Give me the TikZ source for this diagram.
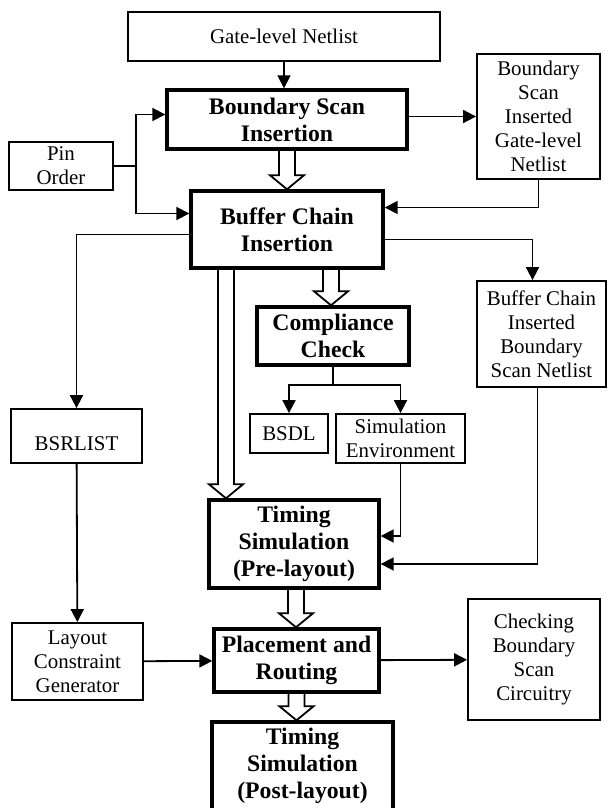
\documentclass[tikz,border=0pt]{standalone}
\usepackage{fontspec}
\setmainfont{Liberation Serif}
\usetikzlibrary{arrows.meta}
\usetikzlibrary{calc}

\newcommand{\hollowarrow}[3][0]{%
  \path ($(#2.south)+(#1,0)$) coordinate (ha-s) (#3.north -| ha-s) coordinate (ha-t);
  \draw[hollow] ($(ha-s)+(-8,0)$) -- ($(ha-t)+(-8,-14)$) -- ($(ha-t)+(-17,-14)$) -- (ha-t)
    -- ($(ha-t)+(17,-14)$) -- ($(ha-t)+(8,-14)$) -- ($(ha-s)+(8,0)$);}

\begin{document}
\begin{tikzpicture}[x=0.5pt, y=-0.5pt,
    box/.style={draw, line width=0.9pt, align=center, inner sep=1pt, font=\fontsize{10.45}{12}\selectfont},
    stage/.style={box, line width=1.7pt, font=\fontsize{11.85}{13.5}\selectfont\bfseries},
    arr/.style={line width=0.9pt, -{Triangle[length=6.5pt, width=6.5pt]}},
    hollow/.style={line width=0.9pt, line join=miter}]
      \useasboundingbox (0,0) rectangle (607,808);
      \clip (0,0) rectangle (607,808);

      \node [box, minimum width=156pt, minimum height=24.5pt] (gl) at (284, 36.5) {Gate-level Netlist};
      \node [stage, minimum width=120pt, minimum height=29.5pt] (bsi) at (287, 119.5) {Boundary Scan\\Insertion};
      \node [box, minimum width=52pt, minimum height=24pt] (pin) at (61, 166) {Pin\\Order};
      \node [box, minimum width=61.5pt, minimum height=62.5pt] (bsn) at (538.5, 116.5) {Boundary\\Scan\\Inserted\\Gate-level\\Netlist};
      \node [stage, minimum width=96pt, minimum height=38.5pt] (bci) at (287, 229.5) {Buffer Chain\\Insertion};
      \node [box, minimum width=64.5pt, minimum height=53pt] (bcn) at (541.5, 334) {Buffer Chain\\Inserted\\Boundary\\Scan Netlist};
      \node [stage, minimum width=76pt, minimum height=29pt] (cc) at (333, 336) {Compliance\\Check};
      \node [box, minimum width=39pt, minimum height=19.5pt] (bsdl) at (289, 433.5) {BSDL};
      \node [box, minimum width=64.5pt, minimum height=24.5pt] (env) at (400.5, 438.5) {Simulation\\Environment};
      \node [box, minimum width=65.5pt, minimum height=27pt] (bsr) at (76.5, 436) {\raisebox{-4pt}[\height][0pt]{BSRLIST}};
      \node [stage, minimum width=85pt, minimum height=44pt] (pre) at (294, 544) {Timing\\Simulation\\(Pre-layout)};
      \node [box, minimum width=65.5pt, minimum height=38.5pt] (lcg) at (77.5, 661.5) {Layout\\Constraint\\Generator};
      \node [stage, minimum width=82.5pt, minimum height=31.5pt] (pr) at (296.5, 660.5) {Placement and\\Routing};
      \node [box, minimum width=66pt, minimum height=60.5pt] (chk) at (534, 659.5) {Checking\\Boundary\\Scan\\Circuitry};
      \node [stage, minimum width=90.5pt, minimum height=44pt] (post) at (302.5, 766) {Timing\\Simulation\\(Post-layout)};

      \path [arr]
      (gl.south) edge (gl.south |- bsi.north)
      (bsi.east |- bsn.west) edge (bsn.west)
      (bsr) edge (lcg)
      (lcg) edge (pr)
      (pr) edge (chk);

      \draw [arr] (pin.east) -- ++(22,0) |- ($(bsi.west)+(0,-5)$);
      \draw [arr] (pin.east) -- ++(22,0) |- ($(bci.west)+(0,-16)$);
      \draw [arr] (bsn.south) |- ($(bci.east)+(0,-22)$);
      \draw [arr] ($(bci.east)+(0,10)$) -| ($(bcn.north)+(-9,0)$);
      \draw [arr] ($(bci.west)+(0,5)$) -| (bsr.north);
      \draw [arr] (cc.south) -- ++(0,18) -| (bsdl.north);
      \draw [arr] (cc.south) -- ++(0,18) -| (env.north);
      \draw [arr] (env.south) |- ($(pre.east)+(0,-8)$);
      \draw [arr] ($(bcn.south)+(-4,0)$) |- ($(pre.east)+(0,20)$);

      \hollowarrow{bsi}{bci}
      \hollowarrow[44]{bci}{cc}
      \hollowarrow[-61]{bci}{pre}
      \hollowarrow[2]{pre}{pr}
      \hollowarrow{pr}{post}
    \end{tikzpicture}
\end{document}
